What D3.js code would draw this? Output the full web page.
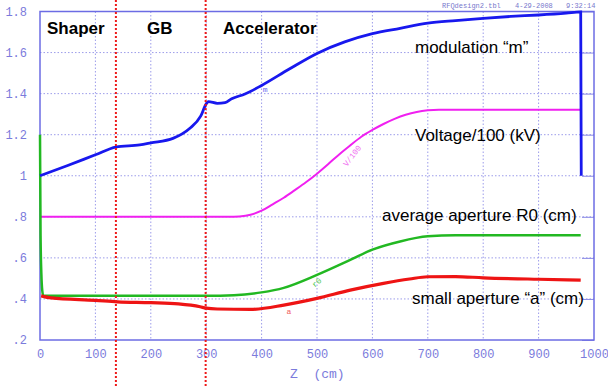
<!DOCTYPE html>
<html>
   <head>
      <title>RFQ design</title>
      <script src="https://cdnjs.cloudflare.com/ajax/libs/d3/7.8.5/d3.min.js"></script>
   </head>
   <style>
      body {
         margin: 0px;
         overflow: hidden;
         background: #fff;
      }
      .tick text {
         font-family: "Liberation Mono", monospace;
         font-size: 12px;
         fill: #7b7bdc;
      }
      .grid line {
         stroke: #9c9cea;
         stroke-dasharray: 1.5, 2;
      }
      .note {
         font-family: "Liberation Sans", Arial, sans-serif;
         font-size: 17px;
         fill: #000;
      }
   </style>
   <body>
      <svg width="608" height="387"></svg>
      <script>
         // values: [z (cm), value]
         const modulation = [[0, 1.0], [50, 1.05], [100, 1.102], [137, 1.14], [180, 1.15], [200, 1.16], [240, 1.182],
            [270, 1.23], [290, 1.29], [300, 1.35], [304, 1.361], [320, 1.353], [334, 1.356], [346, 1.375], [370, 1.398],
            [400, 1.44], [450, 1.52], [500, 1.596], [550, 1.652], [600, 1.692], [650, 1.718], [700, 1.743], [750, 1.756],
            [800, 1.767], [850, 1.776], [900, 1.783], [950, 1.792], [976, 1.798], [977, 1.0]];
         const voltage = [[0, 0.8], [340, 0.8], [360, 0.802], [380, 0.81], [400, 0.83], [420, 0.861], [440, 0.893],
            [460, 0.93], [480, 0.968], [500, 1.01], [520, 1.056], [540, 1.104], [560, 1.148], [580, 1.19], [600, 1.223],
            [620, 1.252], [640, 1.277], [660, 1.297], [680, 1.311], [700, 1.319], [720, 1.322], [976, 1.322]];
         const avgAperture = [[0, 1.2], [1, 0.71], [2.5, 0.52], [4, 0.443], [6, 0.415], [300, 0.415], [350, 0.418],
            [400, 0.432], [440, 0.454], [500, 0.517], [560, 0.59], [600, 0.64], [650, 0.68], [700, 0.705], [750, 0.71],
            [976, 0.71]];
         const smallAperture = [[2, 0.415], [20, 0.405], [100, 0.393], [140, 0.386], [200, 0.382], [250, 0.376],
            [289, 0.362], [300, 0.355], [320, 0.351], [380, 0.349], [440, 0.37], [500, 0.403], [560, 0.443],
            [620, 0.476], [667, 0.497], [700, 0.508], [750, 0.509], [800, 0.503], [900, 0.496], [976, 0.492]];
         const sections = [137, 299];
         const xTicks = [0, 100, 200, 300, 400, 500, 600, 700, 800, 900, 1000];
         const yTicks = [0.2, 0.4, 0.6, 0.8, 1.0, 1.2, 1.4, 1.6, 1.8];

         const svg = d3.select("svg");
         const pLeft = 40, pRight = 594, pTop = 11.5, pBottom = 340;

         const x = d3.scaleLinear().domain([0, 1000]).range([pLeft, pRight]);
         const y = d3.scaleLinear().domain([0.2, 1.8]).range([pBottom, pTop]);

         // grid
         svg.append("g").attr("class", "grid")
            .selectAll("line").data(xTicks.slice(1, -1)).enter().append("line")
            .attr("x1", d => x(d)).attr("x2", d => x(d)).attr("y1", pTop).attr("y2", pBottom);
         svg.append("g").attr("class", "grid")
            .selectAll("line").data(yTicks.slice(1, -1)).enter().append("line")
            .attr("x1", pLeft).attr("x2", pRight).attr("y1", d => y(d)).attr("y2", d => y(d));

         // axes
         const yFmt = d => d === 1 ? "1" : String(+d.toFixed(1)).replace(/^0/, "");
         svg.append("g").attr("transform", `translate(${pLeft},0)`)
            .call(d3.axisLeft(y).tickValues(yTicks).tickSize(0).tickPadding(13).tickFormat(yFmt))
            .call(g => g.select(".domain").remove());
         svg.append("g").attr("transform", `translate(0,${pBottom})`)
            .call(d3.axisBottom(x).tickValues(xTicks).tickSize(0).tickPadding(9).tickFormat(d3.format("d")))
            .call(g => g.select(".domain").remove());
         svg.append("g").attr("transform", `translate(${pRight},0)`)
            .call(d3.axisLeft(y).tickValues(yTicks).tickSize(12).tickFormat(""))
            .call(g => g.select(".domain").remove())
            .selectAll("line").attr("stroke", "#8a8ae6");

         svg.append("rect")
            .attr("x", pLeft).attr("y", pTop)
            .attr("width", pRight - pLeft).attr("height", pBottom - pTop)
            .attr("fill", "none").attr("stroke", "#6c6ce4").attr("stroke-width", 1.5);

         // curves
         const line = d3.line().x(d => x(d[0])).y(d => y(d[1])).curve(d3.curveMonotoneX);
         const curves = [
            { data: voltage, color: "#f020f0", width: 2 },
            { data: avgAperture, color: "#22b822", width: 2.5 },
            { data: smallAperture, color: "#ee1414", width: 3.2 },
            { data: modulation, color: "#1818ee", width: 2.8 }
         ];
         curves.forEach(c => {
            svg.append("path")
               .attr("d", line(c.data))
               .attr("fill", "none")
               .attr("stroke", c.color)
               .attr("stroke-width", c.width);
         });

         // small curve tags
         const tags = [
            { t: "m", z: 402, v: 1.41, color: "#6a6af0", rot: 0 },
            { t: "V/100", z: 554, v: 1.043, color: "#f070f0", rot: -52 },
            { t: "r0", z: 496, v: 0.455, color: "#4cc84c", rot: -40 },
            { t: "a", z: 445, v: 0.325, color: "#f06060", rot: 0 }
         ];
         tags.forEach(d => {
            svg.append("text")
               .attr("transform", `translate(${x(d.z)},${y(d.v)}) rotate(${d.rot})`)
               .attr("font-family", "Liberation Mono, monospace")
               .attr("font-size", 8)
               .attr("fill", d.color)
               .text(d.t);
         });

         // section boundaries
         sections.forEach(z => {
            svg.append("line")
               .attr("x1", x(z)).attr("x2", x(z)).attr("y1", 0).attr("y2", 387)
               .attr("stroke", "#ee1a1a").attr("stroke-width", 2)
               .attr("stroke-dasharray", "2,2");
         });

         // section names
         [["Shaper", 47], ["GB", 147], ["Accelerator", 223]].forEach(s => {
            svg.append("text").attr("class", "note")
               .attr("x", s[1]).attr("y", 34)
               .attr("font-weight", "bold")
               .text(s[0]);
         });

         // curve labels
         [["modulation \u201cm\u201d", 415, 53], ["Voltage/100 (kV)", 415, 141],
          ["average aperture R0 (cm)", 382, 221], ["small aperture \u201ca\u201d (cm)", 412, 304]].forEach(s => {
            svg.append("text").attr("class", "note")
               .attr("x", s[1]).attr("y", s[2])
               .text(s[0]);
         });

         // axis title
         svg.append("text")
            .attr("x", 290).attr("y", 378)
            .attr("font-family", "Liberation Mono, monospace")
            .attr("font-size", 13)
            .attr("fill", "#7b7bdc")
            .attr("xml:space", "preserve")
            .text("Z  (cm)");

         // file header
         [["RFQdesign2.tbl", 442], ["4-29-2008", 515], ["9:32:14", 566]].forEach(s => {
            svg.append("text")
               .attr("x", s[1]).attr("y", 8)
               .attr("font-family", "Liberation Mono, monospace")
               .attr("font-size", 7)
               .attr("fill", "#7777cc")
               .text(s[0]);
         });
      </script>
   </body>
</html>
